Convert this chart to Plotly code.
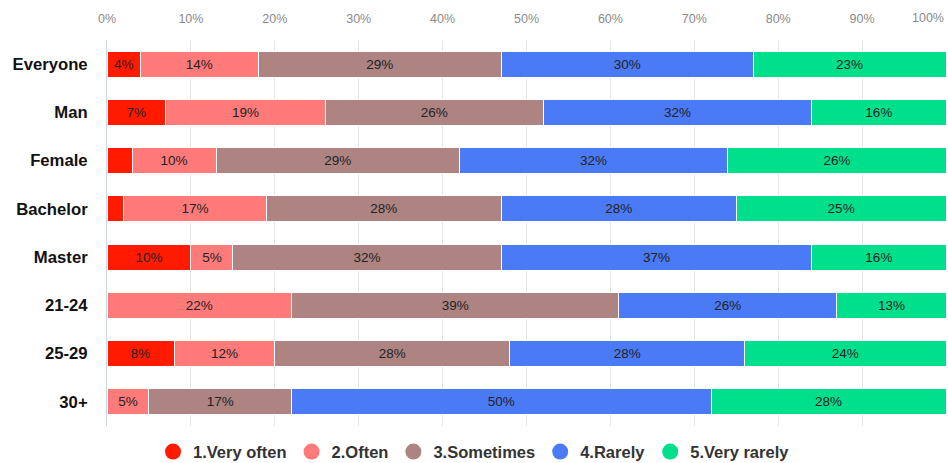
import plotly.graph_objects as go

# Survey groups, top to bottom
groups = ["Everyone", "Man", "Female", "Bachelor", "Master", "21-24", "25-29", "30+"]

# Share of answers (%) per frequency level
very_often = [4, 7, 3, 2, 10, 0, 8, 0]
often = [14, 19, 10, 17, 5, 22, 12, 5]
sometimes = [29, 26, 29, 28, 32, 39, 28, 17]
rarely = [30, 32, 32, 28, 37, 26, 28, 50]
very_rarely = [23, 16, 26, 25, 16, 13, 24, 28]

series_names = ["1.Very often", "2.Often", "3.Sometimes", "4.Rarely", "5.Very rarely"]
series_values = [very_often, often, sometimes, rarely, very_rarely]
series_colors = ["#ff1a00", "#ff7a78", "#ad8482", "#4a7af5", "#00e08c"]

x_ticks = list(range(0, 101, 10))

FONT = "Arial, Liberation Sans, sans-serif"
TICK_FONT = dict(family=FONT, size=12.5, color="#8a8a8a")

fig = go.Figure()

for name, vals, color in zip(series_names, series_values, series_colors):
    # segments too narrow for a label stay unlabeled
    labels = [f"{v}%" if v >= 4 else "" for v in vals]
    fig.add_trace(go.Bar(
        x=vals,
        y=groups,
        orientation="h",
        name=name,
        marker=dict(color=color, line=dict(color="white", width=1)),
        text=labels,
        textposition="inside",
        insidetextanchor="middle",
        textfont=dict(family=FONT, size=13.5, color="#222222"),
        width=0.54,
        showlegend=False,
        hoverinfo="x+y+name",
    ))

# circular legend markers
for name, color in zip(series_names, series_colors):
    fig.add_trace(go.Scatter(
        x=[None], y=[None],
        mode="markers",
        name=name,
        marker=dict(color=color, size=16, symbol="circle"),
        showlegend=True,
    ))

# the last tick label is right-aligned so it stays inside the figure
tick_text = [f"{t}%" for t in x_ticks]
tick_text[-1] = ""
fig.add_annotation(
    x=x_ticks[-1], y=1, xref="x", yref="paper",
    text=f"{x_ticks[-1]}%", showarrow=False,
    xanchor="right", yanchor="bottom", yshift=13,
    font=TICK_FONT,
)

fig.update_layout(
    barmode="stack",
    width=948,
    height=463,
    margin=dict(l=107, r=2, t=40, b=37, autoexpand=False),
    plot_bgcolor="white",
    paper_bgcolor="white",
    font=dict(family=FONT),
    uniformtext=dict(minsize=8, mode="show"),
    legend=dict(
        orientation="h",
        traceorder="normal",
        xref="container",
        x=0.5,
        xanchor="center",
        yref="container",
        y=0.024,
        yanchor="middle",
        font=dict(family=FONT, size=16.5, color="#333333", weight="bold"),
        itemsizing="trace",
        tracegroupgap=0,
    ),
    xaxis=dict(
        side="top",
        range=[0, 100],
        tickvals=x_ticks,
        ticktext=tick_text,
        tickfont=TICK_FONT,
        showgrid=True,
        gridcolor="#e6e6e6",
        gridwidth=1,
        zeroline=False,
        showline=False,
        ticks="",
        ticklabelstandoff=14,
        fixedrange=True,
    ),
    yaxis=dict(
        categoryorder="array",
        categoryarray=groups,
        autorange="reversed",
        tickfont=dict(family=FONT, size=16.7, color="#111111", weight="bold"),
        showline=True,
        linecolor="#ccd6eb",
        linewidth=1,
        showgrid=False,
        ticks="",
        ticklabelstandoff=15,
        fixedrange=True,
    ),
)

fig.write_html("out.html")
